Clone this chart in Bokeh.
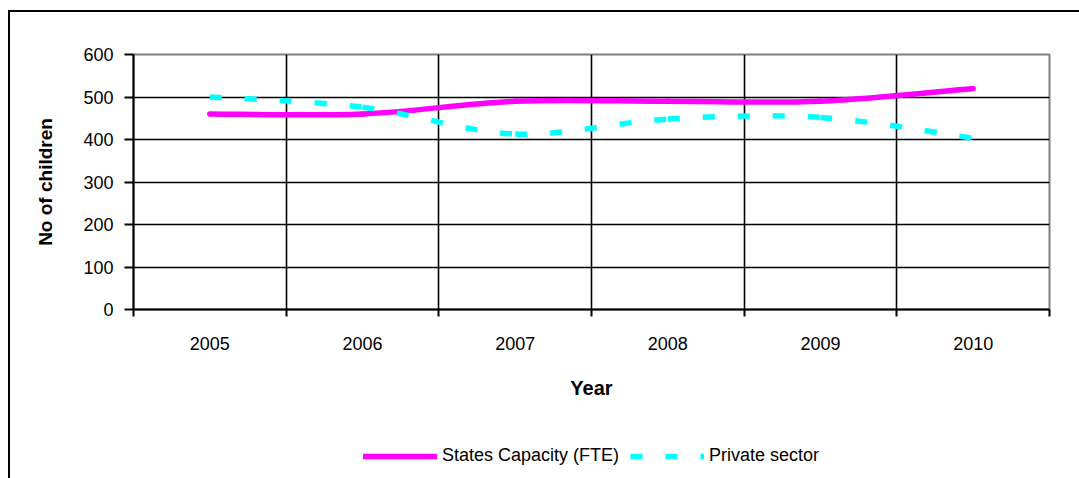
import numpy as np
from bokeh.plotting import figure
from bokeh.layouts import column
from bokeh.models import Range1d, FixedTicker, Legend, LegendItem, ColumnDataSource
from bokeh.embed import file_html
from bokeh.resources import INLINE

# ---- data ----
years = ["2005", "2006", "2007", "2008", "2009", "2010"]
state_capacity = [460, 460, 490, 490, 490, 520]
private_sector = [500, 476, 413, 448, 452, 403]
y_ticks = [0, 100, 200, 300, 400, 500, 600]

FONT = "Liberation Sans"

x_idx = np.arange(len(years), dtype=float)


def smooth_segments(xs, ys):
    """Excel-like smoothed line: one cubic Bezier per segment (Catmull-Rom control points)."""
    xs = np.asarray(xs, float)
    ys = np.asarray(ys, float)
    n = len(xs)
    d = dict(x0=[], y0=[], x1=[], y1=[], cx0=[], cy0=[], cx1=[], cy1=[])
    for i in range(n - 1):
        a = i - 1 if i > 0 else i
        b = i + 2 if i + 2 < n else i + 1
        d["x0"].append(xs[i]); d["y0"].append(ys[i])
        d["x1"].append(xs[i + 1]); d["y1"].append(ys[i + 1])
        d["cx0"].append(xs[i] + (xs[i + 1] - xs[a]) / 6.0)
        d["cy0"].append(ys[i] + (ys[i + 1] - ys[a]) / 6.0)
        d["cx1"].append(xs[i + 1] - (xs[b] - xs[i]) / 6.0)
        d["cy1"].append(ys[i + 1] - (ys[b] - ys[i]) / 6.0)
    return ColumnDataSource(d)


src_s = smooth_segments(x_idx, state_capacity)
src_p = smooth_segments(x_idx, private_sector)

S_STYLE = dict(line_color="#FF00FF", line_width=5.5, line_cap="round")
P_STYLE = dict(line_color="#00FFFF", line_width=5.5, line_dash="12 23", line_cap="butt")
BEZ = dict(x0="x0", y0="y0", x1="x1", y1="y1", cx0="cx0", cy0="cy0", cx1="cx1", cy1="cy1")

# ---------------- main chart ----------------
p = figure(width=1069, height=410, output_backend="svg", toolbar_location=None,
           x_range=Range1d(-0.5, len(years) - 0.5), y_range=Range1d(0, 600),
           min_border_left=123, min_border_right=30, min_border_top=42, min_border_bottom=113)

p.outline_line_color = "#808080"
p.outline_line_width = 2
p.background_fill_color = "white"
p.border_fill_color = "white"

p.xgrid.ticker = FixedTicker(ticks=list(x_idx[:-1] + 0.5))
p.ygrid.ticker = FixedTicker(ticks=y_ticks[1:-1])
for g in (p.xgrid, p.ygrid):
    g.grid_line_color = "black"
    g.grid_line_width = 1.6

xa = p.xaxis[0]
xa.ticker = FixedTicker(ticks=list(x_idx), minor_ticks=list(np.arange(len(years) + 1) - 0.5))
xa.major_label_overrides = {int(i): y for i, y in enumerate(years)}
xa.major_tick_line_color = None
xa.minor_tick_line_color = "black"
xa.minor_tick_line_width = 2
xa.minor_tick_out = 7
xa.minor_tick_in = 0
xa.axis_line_color = "black"
xa.axis_line_width = 2
xa.major_label_standoff = 20
xa.major_label_text_font = FONT
xa.major_label_text_font_size = "18px"
xa.major_label_text_color = "black"
xa.axis_label = "Year"
xa.axis_label_text_font = FONT
xa.axis_label_text_font_size = "20px"
xa.axis_label_text_font_style = "bold"
xa.axis_label_text_color = "black"
xa.axis_label_standoff = 24

ya = p.yaxis[0]
ya.ticker = FixedTicker(ticks=y_ticks, minor_ticks=[])
ya.major_tick_line_color = "black"
ya.major_tick_line_width = 2
ya.major_tick_out = 9
ya.major_tick_in = 0
ya.axis_line_color = "black"
ya.axis_line_width = 2
ya.major_label_standoff = 11
ya.major_label_text_font = FONT
ya.major_label_text_font_size = "18px"
ya.major_label_text_color = "black"
ya.axis_label = "No of children"
ya.axis_label_text_font = FONT
ya.axis_label_text_font_size = "19px"
ya.axis_label_text_font_style = "bold"
ya.axis_label_text_color = "black"
ya.axis_label_standoff = 24

p.bezier(source=src_s, **BEZ, **S_STYLE)
p.bezier(source=src_p, **BEZ, **P_STYLE)

# ---------------- legend strip ----------------
lg = figure(width=1069, height=80, output_backend="svg", toolbar_location=None,
            x_range=Range1d(100, 101), y_range=Range1d(100, 101),
            x_axis_location=None, y_axis_location=None,
            min_border_left=123, min_border_right=30, min_border_top=0, min_border_bottom=0)
lg.grid.visible = False
lg.outline_line_color = None
lg.border_fill_color = "white"
lg.background_fill_color = "white"
lr_s = lg.bezier(source=src_s, **BEZ, **S_STYLE)
lr_p = lg.bezier(source=src_p, **BEZ, **P_STYLE)

legend = Legend(items=[LegendItem(label="States Capacity (FTE)", renderers=[lr_s]),
                       LegendItem(label="Private sector", renderers=[lr_p])],
                orientation="horizontal", location="top_center",
                glyph_width=74, glyph_height=20, label_standoff=5, spacing=11,
                padding=0, margin=23, border_line_color=None, background_fill_alpha=0,
                label_text_font=FONT, label_text_font_size="18px", label_text_color="black")
lg.add_layout(legend)

layout = column(p, lg, spacing=0,
                styles={"border-top": "2px solid black", "border-left": "2px solid black",
                        "margin-left": "8px", "margin-top": "10px"})

open("out.html", "w").write(file_html(layout, INLINE))
